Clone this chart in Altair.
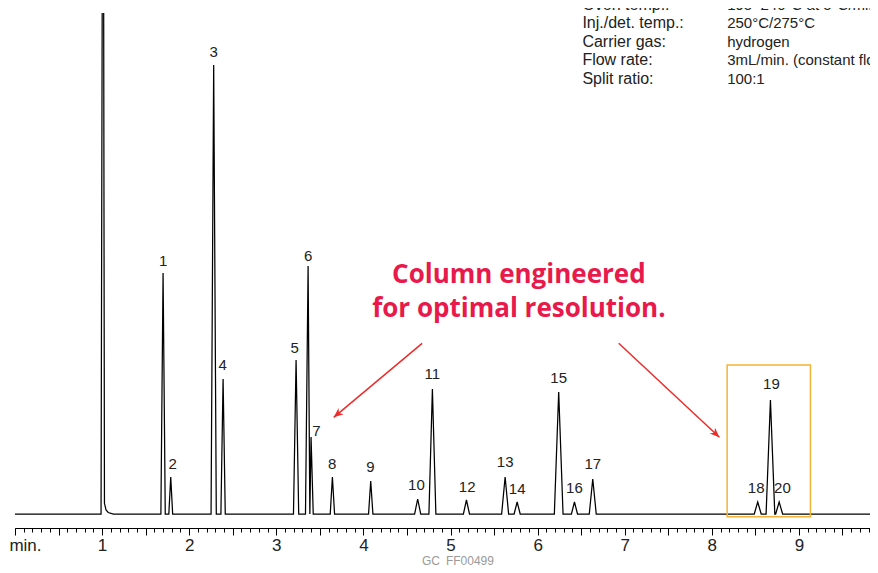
import altair as alt
import pandas as pd

# ---------------- data ----------------
peak_ids = [str(i) for i in range(1, 21)]
peak_time = [1.700, 1.788, 2.281, 2.389, 3.227, 3.365, 3.399, 3.644, 4.084, 4.623,
             4.792, 5.183, 5.627, 5.765, 6.242, 6.423, 6.633, 8.527, 8.673, 8.773]
peak_height = [241, 37, 449, 135, 154, 248, 77, 37, 33, 15,
               125, 14, 37, 12, 122, 12, 35, 12, 114, 12]
peak_left_w = [0.025, 0.022, 0.03, 0.025, 0.03, 0.03, 0.014, 0.025, 0.025, 0.035,
               0.04, 0.035, 0.04, 0.035, 0.05, 0.035, 0.04, 0.04, 0.05, 0.04]
peak_right_w = [0.025, 0.022, 0.03, 0.025, 0.03, 0.02, 0.025, 0.025, 0.025, 0.035,
                0.04, 0.035, 0.04, 0.035, 0.05, 0.035, 0.04, 0.04, 0.05, 0.04]

label_time = [1.700, 1.811, 2.281, 2.385, 3.211, 3.365, 3.460, 3.641, 4.080, 4.609,
              4.792, 5.191, 5.627, 5.765, 6.242, 6.423, 6.633, 8.509, 8.684, 8.811]
label_level = [253, 50, 462, 149, 166, 258, 83, 50, 47, 29,
               140, 27, 52, 25, 136, 26, 50, 26, 130, 26]

solvent_time = [0.988, 1.011, 1.027, 1.045, 1.070, 1.130]
solvent_level = [0, 900, 10.7, 4, 1.5, 0]

t_end = 9.816

param_names = ["Oven temp.:", "Inj./det. temp.:", "Carrier gas:", "Flow rate:", "Split ratio:"]
param_values = ["195\u2013240\u00b0C at 5\u00b0C/min", "250\u00b0C/275\u00b0C", "hydrogen",
                "3mL/min. (constant flow)", "100:1"]
param_level = [509.5, 491, 472, 454, 435]

callout_lines = ["Column engineered", "for optimal resolution."]
callout_level = [239, 204.7]

arrow_id = ["left", "left", "right", "right"]
arrow_time = [4.674, 3.659, 6.931, 8.087]
arrow_level = [170.7, 96.7, 170.7, 76.7]
arrow_tip_angle = [230, 133]

box_time = [8.176, 9.132]
box_level = [-2.7, 149]

# ---------------- tables ----------------
rows = [(0.0, 0.0)]
rows += list(zip(solvent_time, solvent_level))
for t, h, wl, wr in zip(peak_time, peak_height, peak_left_w, peak_right_w):
    rows += [(t - wl, 0.0), (t, h), (t + wr, 0.0)]
rows.append((t_end, 0.0))
trace = pd.DataFrame(rows, columns=["t", "v"])
trace["i"] = range(len(trace))

labels = pd.DataFrame({"t": label_time, "v": label_level, "txt": peak_ids})
params = pd.DataFrame({"v": param_level, "name": param_names, "val": param_values,
                       "t1": [6.514] * 5, "t2": [8.176] * 5})
callout = pd.DataFrame({"t": [5.785] * 2, "v": callout_level, "txt": callout_lines})
arrows = pd.DataFrame({"id": arrow_id, "t": arrow_time, "v": arrow_level})
tips = pd.DataFrame({"t": [arrow_time[1], arrow_time[3]], "v": [arrow_level[1], arrow_level[3]],
                     "ang": arrow_tip_angle})
box = pd.DataFrame({"t": [box_time[0]], "t2": [box_time[1]], "v": [box_level[0]], "v2": [box_level[1]]})
misc = pd.DataFrame({"t": [0.12, 5.085], "v": [-31.5, -46.5], "txt": ["min.", "GC\u2002FF00499"],
                     "kind": ["min", "code"]})

xs = alt.Scale(domain=[0, t_end], nice=False, zero=False)
ys = alt.Scale(domain=[-14, 501], nice=False, zero=False)
FONT = "Liberation Sans, Arial, sans-serif"

minor_ticks = [round(i * 0.1, 1) for i in range(0, 99)]
major_ticks = [round(i * 0.5, 1) for i in range(0, 20)]

X = lambda f="t": alt.X(f"{f}:Q", scale=xs, axis=None)
Y = lambda f="v": alt.Y(f"{f}:Q", scale=ys, axis=None)

trace_layer = alt.Chart(trace).mark_line(color="black", strokeWidth=1.25, clip=True).encode(
    x=alt.X("t:Q", scale=xs, title=None,
            axis=alt.Axis(orient="bottom", values=minor_ticks, tickSize=4, tickColor="black",
                          domainColor="black", domainWidth=1, tickWidth=1, grid=False,
                          labelOverlap=False, labelFlush=False, labelBound=False,
                          labelExpr="abs(datum.value - round(datum.value)) < 0.001 && datum.value > 0 ? '' + round(datum.value) : ''",
                          labelFont=FONT, labelFontSize=17, labelColor="#222",
                          labelPadding=5)),
    y=Y(),
    order="i:Q",
)

major_layer = alt.Chart(pd.DataFrame({"t": [0.0]})).mark_point(opacity=0).encode(
    x=alt.X("t:Q", scale=xs, title=None,
            axis=alt.Axis(orient="bottom", values=major_ticks, tickSize=7, tickColor="black",
                          domain=False, labels=False, grid=False, tickWidth=1)),
)

label_layer = alt.Chart(labels).mark_text(font=FONT, fontSize=15, color="#222",
                                          baseline="middle").encode(x=X(), y=Y(), text="txt:N")

box_layer = alt.Chart(box).mark_rect(fill=None, stroke="#f5b335", strokeWidth=1.5).encode(
    x=X(), x2="t2:Q", y=Y(), y2="v2:Q")

param_left = alt.Chart(params).mark_text(font=FONT, fontSize=16, color="#222", align="left",
                                         baseline="middle").encode(x=X("t1"), y=Y(), text="name:N")
param_right = alt.Chart(params).mark_text(font=FONT, fontSize=15, color="#222", align="left",
                                          baseline="middle").encode(x=X("t2"), y=Y(), text="val:N")

callout_layer = alt.Chart(callout).mark_text(font="Open Sans", fontWeight="bold", fontSize=26,
                                             color="#e8194b", baseline="middle").encode(
    x=X(), y=Y(), text="txt:N")

arrow_lines = alt.Chart(arrows).mark_line(color="#ee2b2b", strokeWidth=1.5).encode(
    x=X(), y=Y(), detail="id:N")
arrow_heads = alt.Chart(tips).mark_point(
    shape="M0,0 L0.7,1.7 L0,1.2 L-0.7,1.7 Z", filled=True, color="#ee2b2b", opacity=1,
    size=130).encode(x=X(), y=Y(), angle=alt.Angle("ang:Q", scale=None))

min_layer = alt.Chart(misc).mark_text(baseline="middle", font=FONT).encode(
    x=X(), y=Y(), text="txt:N",
    color=alt.Color("kind:N", scale=alt.Scale(domain=["min", "code"], range=["#222", "#9a9a9a"]), legend=None),
    size=alt.Size("kind:N", scale=alt.Scale(domain=["min", "code"], range=[17, 12]), legend=None),
)

chart = alt.layer(
    major_layer, trace_layer, box_layer, label_layer, param_left, param_right,
    callout_layer, arrow_lines, arrow_heads, min_layer,
).resolve_axis(x="independent").properties(
    width=855, height=515,
    autosize=alt.AutoSizeParams(type="none"),
    padding={"left": 7, "top": 5, "right": 0, "bottom": 37},
).configure_view(stroke=None)

chart.save("out.html", embed_options={"renderer": "svg", "actions": False})
